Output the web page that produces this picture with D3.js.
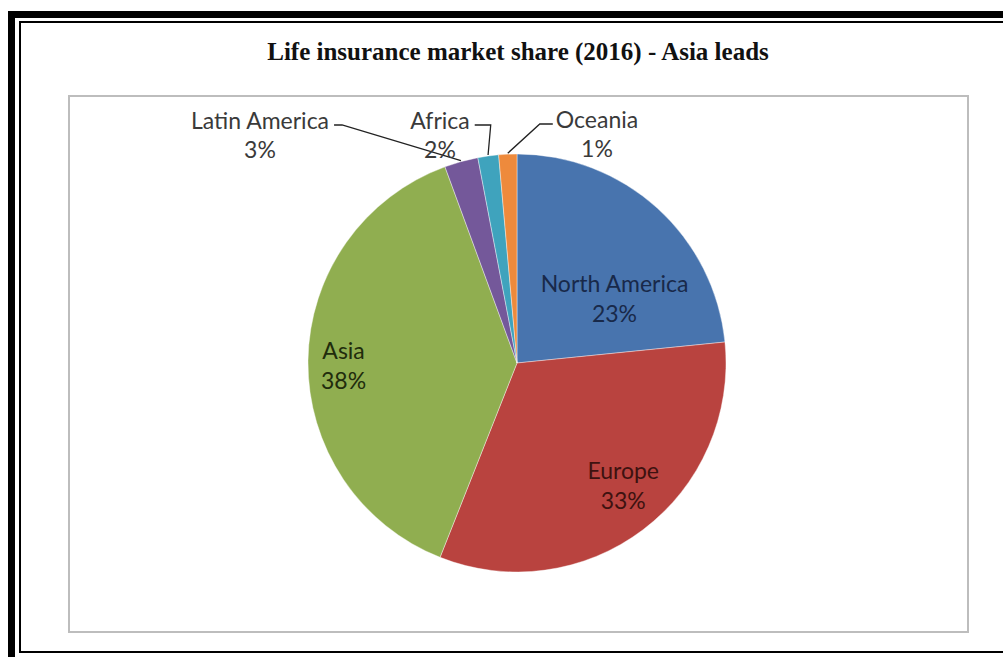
<!DOCTYPE html>
<html>
<head>
<meta charset="utf-8">
<script src="https://cdn.jsdelivr.net/npm/d3@7"></script>
<style>
  html, body { margin: 0; padding: 0; background: #fff; }
  svg { display: block; }
</style>
</head>
<body>
<svg id="chart" width="1003" height="657"></svg>
<script>
// Life insurance premiums by region, 2016 (% of world total)
const categories = ["North America", "Europe", "Asia", "Latin America", "Africa", "Oceania"];
const shares = [23.4, 32.6, 38.4, 2.6, 1.6, 1.4];
const sliceColors = ["#4874AE", "#B9433F", "#90AE50", "#74589A", "#3FA3BD", "#EE8A3C"];
const labelColors = ["#18294a", "#3e1210", "#212c0c", "#3a3a3a", "#3a3a3a", "#3a3a3a"];
const chartTitle = "Life insurance market share (2016) - Asia leads";

// label placement: inside labels sit on a rotated radius, outside labels get a leader line
const insideLabel = {
  "North America": { shift: 14.3, radius: 0.56 },
  "Europe":        { shift: -3.9, radius: 0.775 },
  "Asia":          { shift: -1.5, radius: 0.83 }
};
const outsideLabel = {
  "Latin America": { dx: -257, dy: -242, side: "left",  run: 8 },
  "Africa":        { dx: -77,  dy: -242, side: "left",  run: 16 },
  "Oceania":       { dx: 80,   dy: -243, side: "right", run: 13 }
};

const svg = d3.select("#chart");
const W = 1003, H = 657;

svg.append("rect").attr("width", W).attr("height", H).attr("fill", "#fff");

// double page frame
svg.append("rect")
  .attr("x", 11.5).attr("y", 14.5).attr("width", 1010).attr("height", 660)
  .attr("fill", "none").attr("stroke", "#000").attr("stroke-width", 7);
svg.append("rect")
  .attr("x", 20).attr("y", 22).attr("width", 1000).attr("height", 630)
  .attr("fill", "none").attr("stroke", "#000").attr("stroke-width", 2);

// title
svg.append("text")
  .attr("x", 518).attr("y", 60)
  .attr("text-anchor", "middle")
  .attr("font-family", "'Liberation Serif', 'Times New Roman', serif")
  .attr("font-weight", "bold")
  .attr("font-size", 25)
  .attr("fill", "#111")
  .text(chartTitle);

// chart area box
svg.append("rect")
  .attr("x", 69).attr("y", 96).attr("width", 899).attr("height", 536)
  .attr("fill", "#fff").attr("stroke", "#bdbdbd").attr("stroke-width", 2);

const cx = 517, cy = 363, R = 209;
const g = svg.append("g").attr("transform", `translate(${cx},${cy})`);

const data = categories.map((c, i) => ({ name: c, value: shares[i], color: sliceColors[i], textColor: labelColors[i] }));
const pie = d3.pie().sort(null).value(d => d.value);
const arcs = pie(data);
const arc = d3.arc().innerRadius(0).outerRadius(R);

g.selectAll("path.slice")
  .data(arcs)
  .join("path")
  .attr("class", "slice")
  .attr("d", arc)
  .attr("fill", d => d.data.color)
  .attr("stroke", "#fff")
  .attr("stroke-width", 0.4);

const fmt = v => Math.round(v) + "%";
const fontFamily = "Lato, 'Noto Sans', sans-serif";
const fontSize = 23;

function polar(angle, r) {
  return [r * Math.sin(angle), -r * Math.cos(angle)];
}

arcs.forEach(a => {
  const name = a.data.name;
  const mid = (a.startAngle + a.endAngle) / 2;
  if (insideLabel[name]) {
    const cfg = insideLabel[name];
    const [x, y] = polar(mid + cfg.shift * Math.PI / 180, R * cfg.radius);
    const t = g.append("text")
      .attr("text-anchor", "middle")
      .attr("font-family", fontFamily)
      .attr("font-size", fontSize)
      .attr("fill", a.data.textColor);
    t.append("tspan").attr("x", x).attr("y", y - 6).text(name);
    t.append("tspan").attr("x", x).attr("y", y + 24).text(fmt(a.data.value));
  } else if (outsideLabel[name]) {
    const cfg = outsideLabel[name];
    const t = g.append("text")
      .attr("text-anchor", "middle")
      .attr("font-family", fontFamily)
      .attr("font-size", fontSize)
      .attr("fill", a.data.textColor);
    t.append("tspan").attr("x", cfg.dx).attr("y", cfg.dy + 8).text(name);
    t.append("tspan").attr("x", cfg.dx).attr("y", cfg.dy + 37).text(fmt(a.data.value));
    const half = t.select("tspan").node().getComputedTextLength() / 2;
    const ly = cfg.dy + 4;
    const x0 = cfg.side === "left" ? cfg.dx + half + 5 : cfg.dx - half - 3;
    const x1 = cfg.side === "left" ? x0 + cfg.run : x0 - cfg.run;
    const [ex, ey] = polar(mid, R + 1);
    g.append("path")
      .attr("d", d3.line()([[x0, ly], [x1, ly], [ex, ey]]))
      .attr("fill", "none")
      .attr("stroke", "#222")
      .attr("stroke-width", 1.3);
  }
});
</script>
</body>
</html>
